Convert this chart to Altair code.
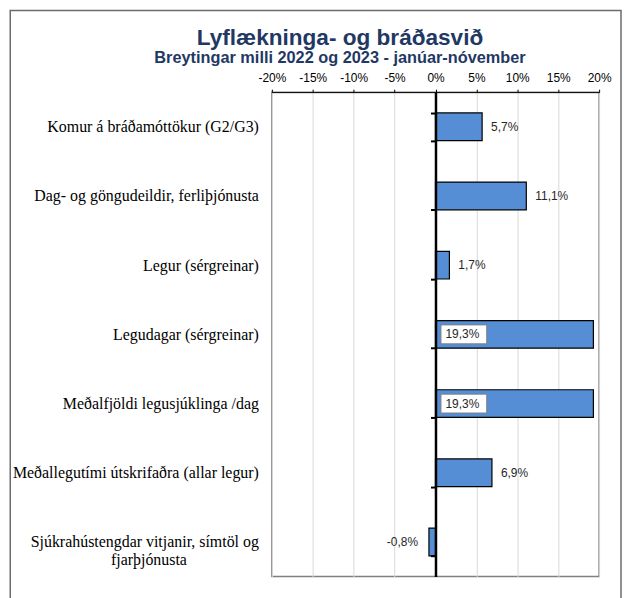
import altair as alt
import pandas as pd

categories = [
    "Komur á bráðamóttökur (G2/G3)",
    "Dag- og göngudeildir, ferliþjónusta",
    "Legur (sérgreinar)",
    "Legudagar (sérgreinar)",
    "Meðalfjöldi legusjúklinga /dag",
    "Meðallegutími útskrifaðra (allar legur)",
    "Sjúkrahústengdar vitjanir, símtöl og fjarþjónusta",
]
values = [5.7, 11.1, 1.7, 19.3, 19.3, 6.9, -0.8]
x_ticks = [-20, -15, -10, -5, 0, 5, 10, 15, 20]
x_domain = [-20, 20]

title_text = "Lyflækninga- og bráðasvið"
subtitle_text = "Breytingar milli 2022 og 2023 - janúar-nóvember"

BLANK = "\u2800"
# wrapped axis label for the long last category (centred second line)
wrapped = {
    categories[6]: "Sjúkrahústengdar vitjanir, símtöl og" + "|" + "fjarþjónusta" + BLANK * 6,
}

labels = [f"{v:.1f}%".replace(".", ",") for v in values]
kind = ["inside" if v > 15 else ("neg" if v < 0 else "pos") for v in values]

df = pd.DataFrame({"cat": categories, "value": values, "label": labels, "kind": kind})

W, H = 329, 487
zero_offset = -W * (0 - x_domain[0]) / (x_domain[1] - x_domain[0])

label_expr = " : ".join(
    [f"datum.label == '{k}' ? split('{v}', '|')" for k, v in wrapped.items()] + ["datum.label"]
)

xscale = alt.Scale(domain=x_domain, nice=False, zero=False)
xaxis = alt.Axis(
    orient="top", values=x_ticks, labelExpr="datum.value + '%'", title=None,
    grid=True, gridColor="#d9d9d9", gridWidth=1, labelFlush=False,
    domainColor="black", domainWidth=1, tickColor="black", tickSize=3,
    labelFont="Liberation Sans", labelFontSize=12, labelColor="black", labelPadding=5,
    zindex=0,
)
yaxis = alt.Axis(
    orient="left", offset=zero_offset, title=None, grid=False,
    domainColor="black", domainWidth=2.5,
    ticks=True, tickBand="extent", tickColor="black", tickWidth=2, tickSize=5,
    labelPadding=173, labelFont="Liberation Serif", labelFontSize=16, labelColor="black",
    labelAlign="right", labelBaseline="middle", labelLimit=400, labelLineHeight=18,
    labelExpr=label_expr, zindex=1,
)
yenc = alt.Y("cat:N", sort=None, axis=yaxis,
             scale=alt.Scale(paddingInner=0.6, paddingOuter=0.3))

base = alt.Chart(df)

bars = base.mark_bar(color="#558ED5", stroke="black", strokeWidth=1.2).encode(
    x=alt.X("value:Q", scale=xscale, axis=xaxis),
    x2=alt.datum(0),
    y=yenc,
)

txt_style = dict(font="Liberation Sans", fontSize=12, color="#262626", baseline="middle")

pos_txt = base.transform_filter("datum.kind == 'pos'").mark_text(align="left", dx=9, **txt_style).encode(
    x=alt.X("value:Q", scale=xscale, axis=xaxis), y=yenc, text="label:N")
neg_txt = base.transform_filter("datum.kind == 'neg'").mark_text(align="right", dx=-11, **txt_style).encode(
    x=alt.X("value:Q", scale=xscale, axis=xaxis), y=yenc, text="label:N")

box = base.transform_filter("datum.kind == 'inside'").mark_bar(
    fill="white", stroke="#808080", strokeWidth=1, height=19, xOffset=5.5, x2Offset=51.5
).encode(x=alt.XDatum(0, scale=xscale, axis=xaxis), x2=alt.datum(0), y=yenc)
in_txt = base.transform_filter("datum.kind == 'inside'").mark_text(align="left", dx=10, **txt_style).encode(
    x=alt.XDatum(0, scale=xscale, axis=xaxis), y=yenc, text="label:N")

frame = alt.Chart(pd.DataFrame({"a": [0]})).mark_rect(
    fill="white", fillOpacity=0, stroke="#6b6b6b", strokeWidth=1.5
).encode(x=alt.value(-263), x2=alt.value(351), y=alt.value(-82), y2=alt.value(520))

chart = alt.layer(frame, bars, box, pos_txt, neg_txt, in_txt).properties(
    width=W, height=H,
    title=alt.TitleParams(
        text=title_text, subtitle=subtitle_text,
        font="Liberation Sans", fontSize=22.7, fontWeight="bold", color="#1F3864",
        subtitleFont="Liberation Sans", subtitleFontSize=16.4, subtitleFontWeight="bold",
        subtitleColor="#1F3864", subtitlePadding=1,
        anchor="middle", dx=-96, offset=-57,
    ),
    padding={"left": 1.25, "top": 0, "right": 0, "bottom": 0},
).configure_view(stroke="#808080", strokeWidth=1.5)

chart.save("out.html", embed_options={"renderer": "svg", "actions": False})
